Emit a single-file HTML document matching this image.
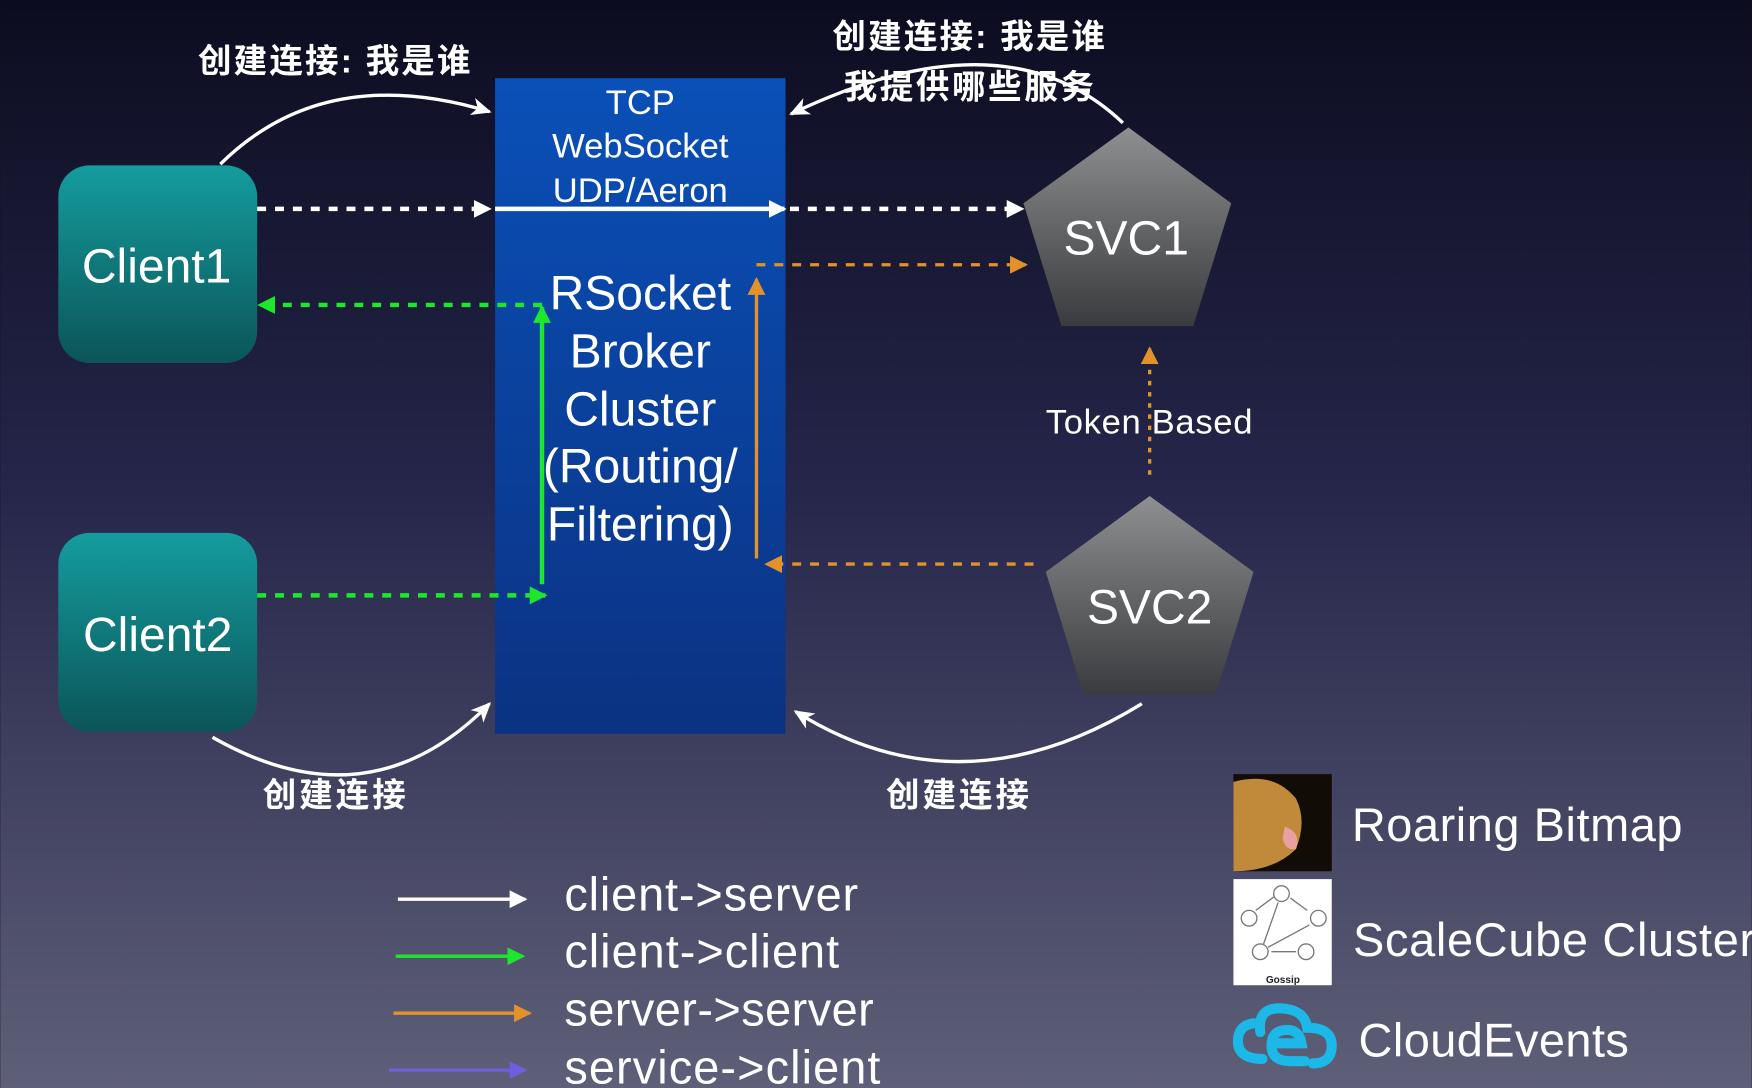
<!DOCTYPE html>
<html><head><meta charset="utf-8"><style>html,body{margin:0;padding:0;background:#111}svg{display:block}</style></head>
<body>
<svg width="1752" height="1088" viewBox="0 0 1568 974" xmlns="http://www.w3.org/2000/svg" font-family="Liberation Sans, Noto Sans CJK SC, sans-serif">
<defs>
<linearGradient id="bg" x1="0" y1="0" x2="0" y2="1"><stop offset="0" stop-color="#0c0c20"/><stop offset="0.45" stop-color="#25264a"/><stop offset="1" stop-color="#5e5f78"/></linearGradient>
<linearGradient id="bk" x1="0" y1="0" x2="0" y2="1"><stop offset="0" stop-color="#0a50b8"/><stop offset="1" stop-color="#0b3282"/></linearGradient>
<linearGradient id="cl" x1="0" y1="0" x2="0" y2="1"><stop offset="0" stop-color="#149c9e"/><stop offset="1" stop-color="#0b5558"/></linearGradient>
<linearGradient id="pg" x1="0" y1="0" x2="0" y2="1"><stop offset="0" stop-color="#8e8f90"/><stop offset="1" stop-color="#3a3b3e"/></linearGradient>
<marker id="aw" markerWidth="10" markerHeight="10" refX="8" refY="5" orient="auto" markerUnits="userSpaceOnUse" viewBox="0 0 10 10"><path d="M0,0 L10,5 L0,10z" fill="#fff"/></marker>
<marker id="awb" markerWidth="16" markerHeight="16" refX="14" refY="8" orient="auto" markerUnits="userSpaceOnUse" viewBox="0 0 16 16"><path d="M0,0 L16,8 L0,16z" fill="#fff"/></marker>
<marker id="ag" markerWidth="16" markerHeight="16" refX="14" refY="8" orient="auto" markerUnits="userSpaceOnUse" viewBox="0 0 16 16"><path d="M0,0 L16,8 L0,16z" fill="#1ee62c"/></marker>
<marker id="ao" markerWidth="16" markerHeight="16" refX="14" refY="8" orient="auto" markerUnits="userSpaceOnUse" viewBox="0 0 16 16"><path d="M0,0 L16,8 L0,16z" fill="#e3922a"/></marker>
<marker id="ap" markerWidth="16" markerHeight="16" refX="14" refY="8" orient="auto" markerUnits="userSpaceOnUse" viewBox="0 0 16 16"><path d="M0,0 L16,8 L0,16z" fill="#6f5ee0"/></marker>
<marker id="ac" markerWidth="20" markerHeight="20" refX="16" refY="10" orient="auto" markerUnits="userSpaceOnUse" viewBox="0 0 20 20"><path d="M0,2 L18,10 L0,18 L5,10z" fill="#fff"/></marker>
</defs>
<rect width="1568" height="974" fill="url(#bg)"/>
<rect x="443" y="70" width="260" height="587" fill="url(#bk)"/>
<rect x="52" y="148" width="178" height="177" rx="28" fill="url(#cl)"/>
<rect x="52" y="477" width="178" height="178" rx="28" fill="url(#cl)"/>
<polygon points="1010,114 1102,182 1068,292 950,292 916,182" fill="url(#pg)"/>
<polygon points="1029,444 1122,512 1088,622 970,622 936,512" fill="url(#pg)"/>

<g fill="none" stroke-width="4">
<path d="M230,187 L438,187" stroke="#fff" stroke-dasharray="8,8" marker-end="url(#awb)"/>
<path d="M443,187 L702,187" stroke="#fff" marker-end="url(#awb)"/>
<path d="M707,187 L915,187" stroke="#fff" stroke-dasharray="8,8" marker-end="url(#awb)"/>
<path d="M677,237 L918,237" stroke="#e3922a" stroke-width="3" stroke-dasharray="8,8" marker-end="url(#ao)"/>
<path d="M677,500 L677,250" stroke="#e3922a" stroke-width="3" marker-end="url(#ao)"/>
<path d="M925,505 L686,505" stroke="#e3922a" stroke-width="3" stroke-dasharray="8,8" marker-end="url(#ao)"/>
<path d="M1029,425 L1029,312" stroke="#e3922a" stroke-width="3" stroke-dasharray="4,6" marker-end="url(#ao)"/>
<path d="M485,273 L232,273" stroke="#1ee62c" stroke-dasharray="8,8" marker-end="url(#ag)"/>
<path d="M485,523 L485,275" stroke="#1ee62c" marker-end="url(#ag)"/>
<path d="M230,533 L488,533" stroke="#1ee62c" stroke-dasharray="8,8" marker-end="url(#ag)"/>
<path d="M197,147 Q290,55 438,100" stroke="#fff" stroke-width="3" marker-end="url(#ac)"/>
<path d="M190,660 Q330,740 438,630" stroke="#fff" stroke-width="3" marker-end="url(#ac)"/>
<path d="M1005,110 Q900,10 708,102" stroke="#fff" stroke-width="3" marker-end="url(#ac)"/>
<path d="M1022,630 Q860,730 712,637" stroke="#fff" stroke-width="3" marker-end="url(#ac)"/>
<path d="M356,805 L470,805" stroke="#fff" stroke-width="3" marker-end="url(#awb)"/>
<path d="M354,856 L468,856" stroke="#1ee62c" stroke-width="3" marker-end="url(#ag)"/>
<path d="M352,907 L474,907" stroke="#e3922a" stroke-width="3" marker-end="url(#ao)"/>
<path d="M348,958 L470,958" stroke="#6f5ee0" stroke-width="3" marker-end="url(#ap)"/>
</g>

<g fill="#fff" font-weight="bold" font-size="30">
<text x="177" y="65" textLength="244">创建连接: 我是谁</text>
<text x="745" y="43" textLength="244">创建连接: 我是谁</text>
<text x="755" y="88" textLength="224">我提供哪些服务</text>
<text x="235" y="722" textLength="128">创建连接</text>
<text x="793" y="722" textLength="128">创建连接</text>
</g>
<g fill="#fff" text-anchor="middle">
<text x="573" y="102" font-size="31">TCP</text>
<text x="573" y="141" font-size="31">WebSocket</text>
<text x="573" y="181" font-size="31">UDP/Aeron</text>
<g font-size="43">
<text x="573" y="277">RSocket</text>
<text x="573" y="329">Broker</text>
<text x="573" y="381">Cluster</text>
<text x="573" y="432">(Routing/</text>
<text x="573" y="484">Filtering)</text>
<text x="140" y="253">Client1</text>
<text x="141" y="583">Client2</text>
<text x="1008" y="228">SVC1</text>
<text x="1029" y="558">SVC2</text>
</g>
</g>
<g fill="#fff">
<text x="936" y="388" font-size="31" textLength="185">Token Based</text>
<g font-size="42">
<text x="505" y="815" textLength="263">client-&gt;server</text>
<text x="505" y="866" textLength="246">client-&gt;client</text>
<text x="505" y="918" textLength="277">server-&gt;server</text>
<text x="505" y="970" textLength="283">service-&gt;client</text>
<text x="1210" y="753" textLength="296">Roaring Bitmap</text>
<text x="1211" y="856" textLength="360">ScaleCube Cluster</text>
<text x="1216" y="946" textLength="242">CloudEvents</text>
</g>
</g>
<!-- lion image -->
<rect x="1104" y="693" width="88" height="87" fill="#120c06"/>
<path d="M1104,700 Q1140,690 1160,715 Q1170,735 1160,760 Q1140,780 1104,780z" fill="#c08a3a"/>
<path d="M1150,740 Q1165,745 1160,760 Q1150,762 1148,750z" fill="#e9a0a0"/>
<!-- gossip image -->
<rect x="1104" y="787" width="88" height="95" fill="#fff"/>
<g fill="none" stroke="#777" stroke-width="1.2">
<circle cx="1147" cy="800" r="7"/><circle cx="1118" cy="822" r="7"/><circle cx="1180" cy="822" r="7"/><circle cx="1128" cy="852" r="7"/><circle cx="1169" cy="852" r="7"/>
<path d="M1155,804 L1170,815 M1124,815 L1140,803 M1131,845 L1144,808 M1135,848 L1172,828 M1160,852 L1138,852"/>
</g>
<text x="1133" y="880" font-size="9" font-weight="bold" fill="#222">Gossip</text>
<!-- cloudevents logo -->
<g fill="none" stroke="#1bb8e8" stroke-width="9" stroke-linecap="round">
<path d="M1130,948 Q1108,948 1108,932 Q1108,918 1122,916"/>
<path d="M1128,924 Q1125,900 1150,903 Q1168,905 1170,920 Q1192,920 1192,936 Q1192,952 1175,952"/>
<path d="M1140,934 L1165,934 Q1163,922 1152,922 Q1138,922 1138,936 Q1138,950 1155,950 L1168,950"/>
</g>
</svg>
</body></html>
